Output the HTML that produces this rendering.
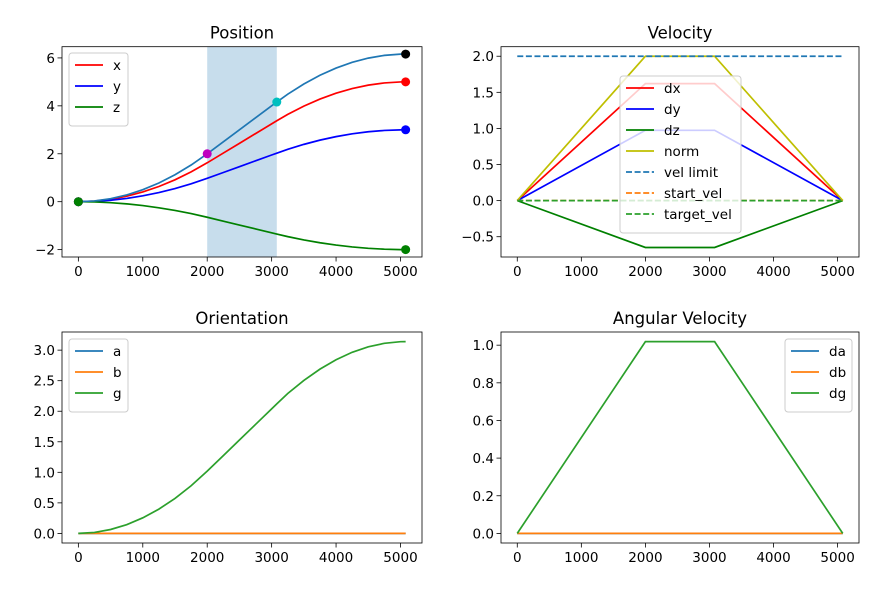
<!DOCTYPE html>
<html><head><meta charset="utf-8"><style>
html,body{margin:0;padding:0;background:#fff}
svg{display:block;font-family:"DejaVu Sans","Liberation Sans",sans-serif}
</style></head><body>
<svg id="fig" width="880" height="591" viewBox="0 0 880 591" xmlns="http://www.w3.org/2000/svg"></svg>
<script>
// ---- data ----
const tPos = [0,250,500,750,1000,1250,1500,1750,2000,2250,2500,2750,3000,3080,3250,3500,3750,4000,4250,4500,4750,5000,5080];
const posX = [0,0.025,0.101,0.228,0.406,0.634,0.913,1.243,1.623,2.029,2.435,2.841,3.247,3.376,3.642,3.987,4.283,4.527,4.721,4.864,4.956,4.998,5.0];
const posY = [0,0.015,0.061,0.137,0.244,0.380,0.548,0.746,0.974,1.218,1.461,1.705,1.948,2.026,2.185,2.392,2.569,2.716,2.832,2.918,2.974,2.998,3.0];
const posZ = [0,-0.010,-0.041,-0.091,-0.162,-0.254,-0.365,-0.497,-0.649,-0.812,-0.974,-1.136,-1.299,-1.351,-1.457,-1.595,-1.713,-1.811,-1.888,-1.945,-1.983,-1.999,-2.0];
const posS = [0,0.031,0.125,0.281,0.5,0.781,1.125,1.531,2.0,2.5,3.0,3.5,4.0,4.16,4.486,4.912,5.276,5.577,5.816,5.992,6.106,6.157,6.16];
const oriA = [0,0,0,0,0,0,0,0,0,0,0,0,0,0,0,0,0,0,0,0,0,0,0];
const oriB = [0,0,0,0,0,0,0,0,0,0,0,0,0,0,0,0,0,0,0,0,0,0,0];
const oriG = [0,0.016,0.064,0.143,0.255,0.398,0.573,0.780,1.019,1.274,1.529,1.784,2.039,2.120,2.290,2.504,2.689,2.843,2.965,3.054,3.112,3.138,3.14];
const tVel = [0,2000,3080,5080];
const velDx = [0,1.62,1.62,0];
const velDy = [0,0.974,0.974,0];
const velDz = [0,-0.649,-0.649,0];
const velNorm = [0,2.0,2.0,0];
const velLimit = [2.0,2.0,2.0,2.0];
const startVel = [0,0,0,0];
const targetVel = [0,0,0,0];
const angDa = [0,0,0,0];
const angDb = [0,0,0,0];
const angDg = [0,1.019,1.019,0];
const spanT = [2000,3080];
const markT = [0,2000,3080,5080];
const markS = [0,2.0,4.16,6.16];
const xTicks = [0,1000,2000,3000,4000,5000];
const posTicks = [-2,0,2,4,6];
const velTicks = [-0.5,0,0.5,1.0,1.5,2.0];
const oriTicks = [0,0.5,1.0,1.5,2.0,2.5,3.0];
const angTicks = [0,0.2,0.4,0.6,0.8,1.0];

const NS="http://www.w3.org/2000/svg";
const fig=document.getElementById('fig');
const FS=13.5;
function mk(tag,attrs,parent){const e=document.createElementNS(NS,tag);for(const k in attrs)e.setAttribute(k,attrs[k]);(parent||fig).appendChild(e);return e;}

function makeAxes(name,L,T,R,B,xmin,xmax,ymin,ymax){
  const g=mk('g',{});
  
  
  return {g,L,T,R,B,
    sx:v=>L+(v-xmin)/(xmax-xmin)*(R-L),
    sy:v=>B-(v-ymin)/(ymax-ymin)*(B-T)};
}
function finishAxes(ax,title,yt,ydec){
  const g=ax.g;
  mk('rect',{x:ax.L,y:ax.T,width:ax.R-ax.L,height:ax.B-ax.T,fill:'none',stroke:'#000','stroke-width':0.8},g);
  xTicks.forEach(v=>{const x=ax.sx(v);
    mk('line',{x1:x,x2:x,y1:ax.B,y2:ax.B+4.5,stroke:'#000','stroke-width':0.8},g);
    const t=mk('text',{x:x,y:ax.B+19,'text-anchor':'middle','font-size':FS,fill:'#000'},g);t.textContent=String(v);
    
    });
  yt.forEach(v=>{const y=ax.sy(v);
    mk('line',{x1:ax.L-4.5,x2:ax.L,y1:y,y2:y,stroke:'#000','stroke-width':0.8},g);
    const s=(v<0?'\u2212':'')+(ydec?Math.abs(v).toFixed(1):String(Math.abs(v)));
    const t=mk('text',{x:ax.L-7,y:y+5,'text-anchor':'end','font-size':FS,fill:'#000'},g);t.textContent=s;
    
    });
  const tt=mk('text',{x:(ax.L+ax.R)/2,y:ax.T-8,'text-anchor':'middle','font-size':16.5,fill:'#000'},g);tt.textContent=title;
  
  
}
function line(ax,xs,ys,color,name,dash){
  const d=xs.map((x,i)=>(i?'L':'M')+ax.sx(x).toFixed(2)+','+ax.sy(ys[i]).toFixed(2)).join('');
  const p=mk('path',{d,fill:'none',stroke:color,'stroke-width':1.7,'stroke-dasharray':dash||'none'},ax.g);
  
  
}
function legend(ax,x,y,w,entries){
  const g=mk('g',{},ax.g);
  
  
  const h=entries.length*21+10;
  mk('rect',{x,y,width:w,height:h,rx:3,fill:'#fff','fill-opacity':0.8,stroke:'#ccc','stroke-width':1},g);
  entries.forEach((e,i)=>{const cy=y+12+i*21;
    const eg=mk('g',{},g);
    
    
    mk('line',{x1:x+6,x2:x+34,y1:cy,y2:cy,stroke:e[1],'stroke-width':1.7,'stroke-dasharray':e[2]||'none'},eg);
    const t=mk('text',{x:x+44,y:cy+5,'font-size':FS,fill:'#000'},eg);t.textContent=e[0];});
}

// Position
const ap=makeAxes('position-chart',62,46.7,422,257,-254,5334,-2.308,6.468);
const sp=mk('rect',{x:ap.sx(spanT[0]),y:ap.T,width:ap.sx(spanT[1])-ap.sx(spanT[0]),height:ap.B-ap.T,fill:'#1f77b4','fill-opacity':0.25},ap.g);


line(ap,tPos,posX,'#ff0000','line-x');
line(ap,tPos,posY,'#0000ff','line-y');
line(ap,tPos,posZ,'#008000','line-z');
line(ap,tPos,posS,'#1f77b4','line-distance');
const mcol=['#008000','#bf00bf','#00bfbf','#000000'];
markT.forEach((t,i)=>{const c=mk('circle',{cx:ap.sx(t),cy:ap.sy(markS[i]),r:4.5,fill:mcol[i]},ap.g);
  
  });
[[posX,'#ff0000'],[posY,'#0000ff'],[posZ,'#008000']].forEach(a=>{
  const n=a[0].length-1;
  const c=mk('circle',{cx:ap.sx(tPos[n]),cy:ap.sy(a[0][n]),r:4.5,fill:a[1]},ap.g);
  
  
  const c0=mk('circle',{cx:ap.sx(tPos[0]),cy:ap.sy(a[0][0]),r:4.5,fill:a[1]},ap.g);
  
  });
finishAxes(ap,'Position',posTicks,false);
legend(ap,69,53,59,[['x','#ff0000'],['y','#0000ff'],['z','#008000']]);

// Velocity
const av=makeAxes('velocity-chart',501,46.7,859,257,-254,5334,-0.781,2.132);
line(av,tVel,velDx,'#ff0000','line-dx');
line(av,tVel,velDy,'#0000ff','line-dy');
line(av,tVel,velDz,'#008000','line-dz');
line(av,tVel,velNorm,'#bfbf00','line-norm');
line(av,tVel,velLimit,'#1f77b4','line-vel-limit','6,2.6');
line(av,tVel,startVel,'#ff7f0e','line-start-vel','6,2.6');
line(av,tVel,targetVel,'#2ca02c','line-target-vel','6,2.6');
finishAxes(av,'Velocity',velTicks,true);
legend(av,620,76,121,[['dx','#ff0000'],['dy','#0000ff'],['dz','#008000'],['norm','#bfbf00'],['vel limit','#1f77b4','6,2.6'],['start_vel','#ff7f0e','6,2.6'],['target_vel','#2ca02c','6,2.6']]);

// Orientation
const ao=makeAxes('orientation-chart',62,332,422,543,-254,5334,-0.157,3.297);
line(ao,tPos,oriA,'#1f77b4','line-a');
line(ao,tPos,oriB,'#ff7f0e','line-b');
line(ao,tPos,oriG,'#2ca02c','line-g');
finishAxes(ao,'Orientation',oriTicks,true);
legend(ao,69,339,59,[['a','#1f77b4'],['b','#ff7f0e'],['g','#2ca02c']]);

// Angular velocity
const aa=makeAxes('angular-velocity-chart',501,332,859,543,-254,5334,-0.051,1.070);
line(aa,tVel,angDa,'#1f77b4','line-da');
line(aa,tVel,angDb,'#ff7f0e','line-db');
line(aa,tVel,angDg,'#2ca02c','line-dg');
finishAxes(aa,'Angular Velocity',angTicks,true);
legend(aa,785,339,67,[['da','#1f77b4'],['db','#ff7f0e'],['dg','#2ca02c']]);
</script>
</body></html>
